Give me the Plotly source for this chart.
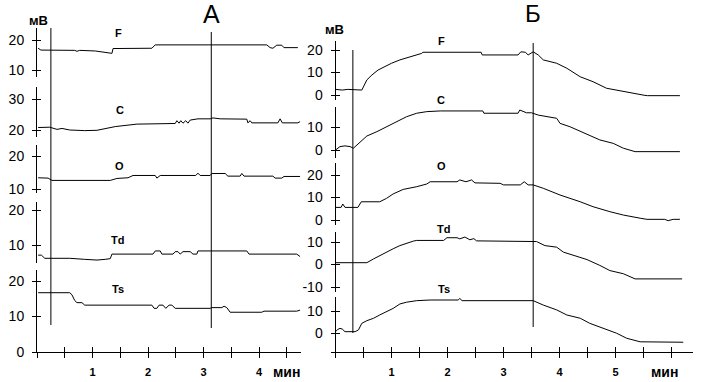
import plotly.graph_objects as go

W, H = 703, 382
FONT = "Liberation Sans, Arial, sans-serif"

channels = ["F", "C", "O", "Td", "Ts"]

# ---------------- Panel A (time in min, value in mV) ----------------
A_F_t = [0.02, 0.07, 0.68, 0.72, 0.77, 1.05, 1.32, 1.35, 1.37, 2.07, 2.13, 4.14, 4.20, 4.25, 4.32, 4.41, 4.45, 4.70]
A_F_v = [17.3, 16.7, 16.6, 16.3, 16.6, 16.4, 15.7, 15.6, 17.2, 17.3, 18.4, 18.4, 17.5, 17.3, 18.3, 18.3, 17.5, 17.5]

A_C_t = [0.02, 0.23, 0.36, 0.45, 0.59, 0.86, 1.08, 1.41, 1.80, 2.49, 2.52, 2.56, 2.59, 2.63, 2.68, 2.72, 2.76, 2.90,
         3.12, 3.17, 3.30, 3.78, 3.80, 3.84, 3.87, 4.34, 4.38, 4.42, 4.70, 4.74]
A_C_v = [20.8, 20.9, 20.2, 20.5, 20.0, 19.8, 19.9, 21.1, 21.9, 22.1, 23.0, 22.2, 23.0, 22.2, 23.0, 22.2, 23.2, 23.6,
         23.6, 23.9, 23.6, 23.5, 22.3, 23.0, 22.3, 22.3, 23.6, 22.3, 22.3, 22.7]

A_O_t = [0.02, 0.20, 0.27, 1.32, 1.44, 1.64, 1.73, 2.13, 2.16, 2.22, 2.86, 2.90, 2.94, 3.12, 3.15, 3.39, 3.44, 3.66,
         3.69, 3.73, 4.25, 4.29, 4.41, 4.45, 4.74]
A_O_v = [13.4, 13.3, 12.6, 12.6, 13.2, 13.4, 14.1, 14.1, 13.3, 14.1, 14.1, 14.8, 14.1, 14.1, 14.7, 14.7, 13.9, 13.9,
         14.7, 13.9, 13.9, 13.3, 13.3, 13.8, 13.8]

A_Td_t = [0.02, 0.08, 0.14, 0.59, 0.86, 1.08, 1.23, 1.32, 1.35, 2.09, 2.13, 2.22, 2.25, 2.45, 2.49, 2.54, 2.58, 2.63,
          2.76, 2.81, 2.88, 2.90, 3.78, 3.82, 4.68, 4.74]
A_Td_v = [7.1, 7.1, 6.2, 6.2, 5.9, 5.7, 5.9, 6.1, 7.4, 7.4, 8.3, 8.3, 7.4, 7.4, 8.1, 8.1, 7.4, 8.1,
          8.1, 7.4, 7.4, 8.3, 8.3, 7.4, 7.4, 6.7]

A_Ts_t = [0.02, 0.27, 0.34, 0.41, 0.59, 0.63, 0.68, 0.72, 0.81, 0.86, 2.07, 2.11, 2.16, 2.20, 2.27, 2.32, 2.38, 2.43,
          2.49, 3.12, 3.15, 3.33, 3.37, 3.42, 3.48, 4.05, 4.09, 4.68, 4.74]
A_Ts_v = [16.7, 16.7, 16.9, 16.7, 16.7, 16.1, 14.5, 13.9, 13.9, 13.2, 13.2, 12.3, 12.3, 13.2, 13.2, 12.3, 13.2, 13.2,
          12.3, 12.3, 12.5, 12.5, 12.9, 12.5, 11.2, 11.2, 11.5, 11.5, 11.8]

# ---------------- Panel B ----------------
B_F_t = [0.00, 0.12, 0.22, 0.35, 0.47, 0.56, 0.65, 0.76, 0.88, 1.00, 1.15, 1.33, 1.54, 1.56, 2.60, 2.62, 3.26, 3.31,
         3.39, 3.44, 3.53, 3.62, 3.71, 3.95, 4.13, 4.37, 4.60, 4.84, 5.14, 5.44, 5.51, 5.57, 6.15]
B_F_v = [2.5, 2.2, 2.5, 2.4, 2.2, 6.7, 8.9, 11.1, 12.6, 14.1, 15.6, 16.8, 18.5, 19.0, 19.0, 17.8, 17.8, 19.2,
         19.0, 17.8, 19.2, 17.8, 15.6, 14.1, 11.9, 8.1, 5.9, 3.0, 1.5, 0.3, -0.1, -0.3, -0.3]

B_C_t = [0.00, 0.08, 0.17, 0.26, 0.32, 0.41, 0.56, 0.74, 0.91, 1.09, 1.27, 1.45, 1.63, 1.87, 2.63, 2.65, 3.26, 3.29,
         3.41, 3.50, 3.62, 3.95, 4.01, 4.19, 4.43, 4.72, 4.96, 5.14, 5.35, 6.15]
B_C_v = [0.2, 1.7, 2.0, 1.7, 1.0, 3.1, 6.3, 8.2, 10.3, 12.5, 14.7, 16.2, 16.9, 17.2, 17.2, 16.2, 16.2, 17.6,
         16.4, 16.4, 15.4, 14.0, 11.8, 10.3, 7.7, 4.6, 3.1, 1.0, -0.5, -0.5]

B_O_t = [0.00, 0.10, 0.13, 0.17, 0.40, 0.46, 0.79, 0.91, 1.03, 1.21, 1.45, 1.63, 1.69, 2.17, 2.22, 2.33, 2.43, 2.49,
         2.94, 3.00, 3.30, 3.37, 3.44, 3.53, 3.71, 4.01, 4.37, 4.60, 4.90, 5.14, 5.44, 5.56, 5.88, 5.94, 6.03, 6.15]
B_O_v = [5.6, 5.6, 7.1, 5.6, 5.6, 8.1, 8.1, 9.6, 11.6, 13.6, 14.8, 16.0, 17.0, 17.0, 17.8, 17.0, 17.8, 16.5,
         16.3, 15.6, 15.6, 17.0, 15.6, 15.6, 14.1, 11.1, 8.1, 5.9, 3.7, 2.2, 0.8, 0.3, 0.3, -0.3, 0.3, 0.3]

B_Td_t = [0.00, 0.56, 0.68, 0.79, 0.91, 1.03, 1.15, 1.27, 1.39, 1.45, 1.93, 1.99, 2.17, 2.22, 2.31, 2.40, 2.47, 2.52,
          3.53, 3.59, 3.74, 3.95, 4.07, 4.28, 4.49, 4.72, 4.90, 5.14, 5.35, 6.19]
B_Td_v = [0.8, 0.8, 2.5, 4.0, 5.5, 7.0, 8.4, 9.5, 10.4, 10.7, 10.7, 11.9, 11.9, 11.4, 12.2, 11.0, 11.5, 10.5,
          10.5, 10.2, 8.4, 7.7, 5.5, 4.0, 2.2, -0.4, -2.7, -4.1, -6.4, -6.4]

B_Ts_t = [0.00, 0.04, 0.08, 0.12, 0.17, 0.35, 0.41, 0.47, 0.56, 0.68, 0.79, 0.91, 1.03, 1.15, 1.27, 1.45, 1.69, 2.19,
          2.22, 2.26, 3.53, 3.71, 3.95, 4.13, 4.37, 4.54, 4.79, 5.02, 5.20, 5.44, 6.21]
B_Ts_v = [0.6, 1.6, 2.1, 1.8, 0.6, 0.6, 1.4, 4.4, 5.6, 6.7, 8.2, 9.7, 11.2, 13.2, 14.0, 14.7, 15.0, 15.0,
          15.7, 14.7, 14.7, 12.7, 10.5, 8.2, 6.7, 4.4, 2.1, -0.1, -2.4, -4.0, -4.2]

# y tick values for each channel strip
A_yticks = [[20, 10], [30, 20], [20, 10], [20, 10], [20, 10, 0]]
B_yticks = [[20, 10, 0], [10, 0], [20, 10, 0], [10, 0, -10], [10, 0]]

# x ticks (min)
A_xticks = [0, 0.5, 1, 1.5, 2, 2.5, 3, 3.5, 4, 4.5]
A_xtext = ["", "", "1", "", "2", "", "3", "", "4", ""]
B_xticks = [0, 0.5, 1, 1.5, 2, 2.5, 3, 3.5, 4, 4.5, 5, 5.5, 6]
B_xtext = ["", "", "1", "", "2", "", "3", "", "4", "", "5", "", ""]

# event markers (min)
A_events = [0.25, 3.14]
B_events = [0.31, 3.53]

A_series = [(A_F_t, A_F_v), (A_C_t, A_C_v), (A_O_t, A_O_v), (A_Td_t, A_Td_v), (A_Ts_t, A_Ts_v)]
B_series = [(B_F_t, B_F_v), (B_C_t, B_C_v), (B_O_t, B_O_v), (B_Td_t, B_Td_v), (B_Ts_t, B_Ts_v)]

# ---------------- layout geometry (pixels) ----------------
def fx(p):
    return p / W


def fy(p):
    return 1 - p / H


# strip: (top px, bottom px, reference px, reference value, px per mV)
A_strips = [(28, 77, 40, 20, 3.05), (87, 137, 99, 30, 3.1), (145, 193, 156, 20, 3.3),
            (202, 263, 210, 20, 3.5), (270, 352, 281, 20, 3.55)]
B_strips = [(41, 100, 95, 0, 2.25), (107, 158, 150.5, 0, 2.3), (163, 225, 220, 0, 2.25),
            (232, 292, 264.5, 0, 2.25), (297, 352, 333, 0, 2.2)]

A_x0, A_x1, A_ppm = 37, 301, 55.5
B_x0, B_x1, B_ppm = 335.5, 693, 56.0

fig = go.Figure()
layout = dict(
    width=W, height=H, margin=dict(l=0, r=0, t=0, b=0, autoexpand=False),
    paper_bgcolor="white", plot_bgcolor="white", showlegend=False,
    font=dict(family=FONT, color="black"),
)

axis_common = dict(showgrid=False, zeroline=False, fixedrange=True, automargin=False)


def add_panel(series, strips, yticks, xname, xtwin, yoff, x0, x1, ppm, xticks, xtext, extra_bottom_tick):
    xa = "xaxis" if xname == "x" else "xaxis" + xname[1:]
    xt = "xaxis" + xtwin[1:]
    bottom_axis = "y%d" % (yoff + 5)
    xr = [0, (x1 - x0) / ppm]
    layout[xa] = dict(domain=[fx(x0), fx(x1)], range=xr, anchor=bottom_axis, showline=True,
                      linecolor="black", linewidth=1, ticks="outside", ticklen=5, tickcolor="black",
                      tickvals=xticks, ticktext=xtext, ticklabelstandoff=5,
                      tickfont=dict(family=FONT, size=11, color="black", weight="bold"), **axis_common)
    layout[xt] = dict(overlaying=xname, range=xr, anchor=bottom_axis, showline=False, ticks="inside",
                      ticklen=5, tickcolor="black", tickvals=xticks, showticklabels=False, **axis_common)
    fig.add_trace(go.Scatter(x=[None], y=[None], xaxis=xtwin, yaxis=bottom_axis, hoverinfo="skip"))
    for i, ((t, v), strip, tv) in enumerate(zip(series, strips, yticks)):
        top, bot, rpx, rv, s = strip
        lo = rv - (bot - rpx) / s
        hi = rv + (rpx - top) / s
        n = yoff + i + 1
        tvals = list(tv)
        ttext = [str(k) for k in tv]
        if extra_bottom_tick and i == 4:
            tvals.append(lo)
            ttext.append("")
        layout["yaxis%d" % n] = dict(domain=[fy(bot), fy(top)], range=[lo, hi], anchor=xname, side="left",
                                     showline=True, linecolor="black", linewidth=1, ticks="outside",
                                     ticklen=4, tickcolor="black", tickvals=tvals, ticktext=ttext,
                                     ticklabelstandoff=5,
                                     tickfont=dict(family=FONT, size=14, color="black"), **axis_common)
        tn = n + 10
        layout["yaxis%d" % tn] = dict(overlaying="y%d" % n, range=[lo, hi], anchor=xname, side="left",
                                      showline=False, ticks="inside", ticklen=4, tickcolor="black",
                                      tickvals=tvals, showticklabels=False, **axis_common)
        fig.add_trace(go.Scatter(x=t, y=v, mode="lines", line=dict(color="black", width=1),
                                 xaxis=xname, yaxis="y%d" % n, name=channels[i], hoverinfo="skip"))
        fig.add_trace(go.Scatter(x=[None], y=[None], xaxis=xname, yaxis="y%d" % tn, hoverinfo="skip"))


add_panel(A_series, A_strips, A_yticks, "x", "x3", 0, A_x0, A_x1, A_ppm, A_xticks, A_xtext, False)
add_panel(B_series, B_strips, B_yticks, "x2", "x4", 5, B_x0, B_x1, B_ppm, B_xticks, B_xtext, True)

# event marker lines
shapes = []
for t, (y0, y1) in zip(A_events, [(28, 325), (32, 328)]):
    shapes.append(dict(type="line", xref="x", yref="paper", x0=t, x1=t, y0=fy(y1), y1=fy(y0),
                       line=dict(color="black", width=1)))
for t, (y0, y1) in zip(B_events, [(50, 333), (43, 327)]):
    shapes.append(dict(type="line", xref="x2", yref="paper", x0=t, x1=t, y0=fy(y1), y1=fy(y0),
                       line=dict(color="black", width=1)))
layout["shapes"] = shapes

annotations = []


def note(text, px, py, size, bold=True):
    font = dict(family=FONT, size=size, color="black")
    if bold:
        font["weight"] = "bold"
    annotations.append(dict(text=text, x=fx(px), y=fy(py), xref="paper", yref="paper", showarrow=False,
                            xanchor="center", yanchor="middle", font=font))


A_label_pos = [(118, 33), (120, 110), (119, 166), (117, 240), (118, 289)]
B_label_pos = [(441, 41), (441, 100), (441, 166), (443, 229), (444, 289)]
for name, (px, py) in zip(channels, A_label_pos):
    note(name, px, py, 11)
for name, (px, py) in zip(channels, B_label_pos):
    note(name, px, py, 11)
note("А", 212, 14, 25, bold=False)
note("Б", 533, 13, 24, bold=False)
note("мВ", 38, 20.5, 13)
note("мВ", 334, 29, 13)
note("мин", 286, 372, 14)
note("мин", 664, 372, 14)
layout["annotations"] = annotations

fig.update_layout(**layout)
fig.write_html("out.html", config={"displayModeBar": False},
               post_script="document.body.style.margin='0px';document.body.style.padding='0px';")
